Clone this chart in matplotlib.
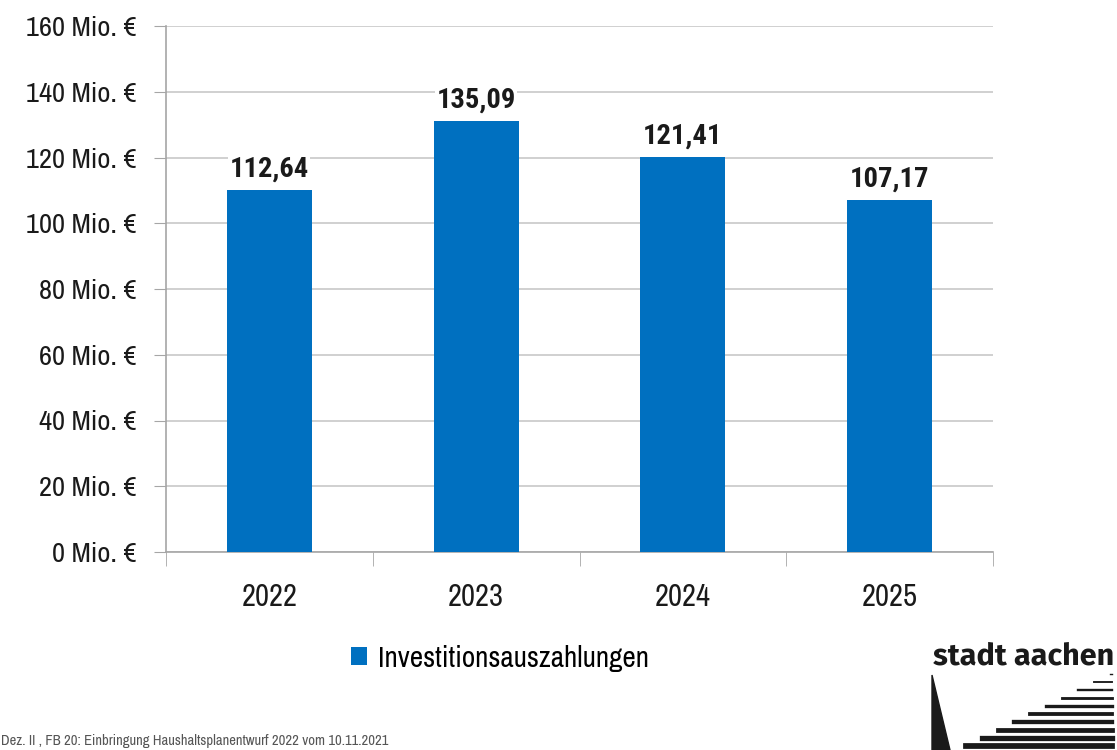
import numpy as np
import matplotlib.pyplot as plt
from matplotlib.patches import Polygon

years = ['2022', '2023', '2024', '2025']
# bar heights as drawn in the picture (Mio. €)
heights = [110.1, 131.1, 120.2, 107.1]
labels = ['112,64', '135,09', '121,41', '107,17']
series_name = 'Investitionsauszahlungen'
yticks = [0, 20, 40, 60, 80, 100, 120, 140, 160]

narrow = ['Archivo Narrow', 'Liberation Sans', 'DejaVu Sans']
narrow_bold = ['Roboto Condensed', 'Fira Sans Condensed', 'DejaVu Sans']
plt.rcParams['font.family'] = narrow

W, H = 1117, 750
fig = plt.figure(figsize=(W / 100, H / 100), dpi=100)
ax = fig.add_axes([166 / W, (H - 552) / H, (993 - 166) / W, (552 - 26) / H])

blue = '#0070C0'
x = np.arange(len(years))
ax.bar(x, heights, width=0.41, color=blue, zorder=3, label=series_name)

for xi, h, lab in zip(x, heights, labels):
    ax.text(xi, h + 2.2, lab, ha='center', va='bottom', fontsize=20.5, fontweight='bold',
            family=narrow_bold, color='#1a1a1a', zorder=4,
            bbox=dict(facecolor='white', edgecolor='none', pad=1))

ax.set_xlim(-0.5, len(years) - 0.5)
ax.set_ylim(0, 160)
ax.set_yticks(yticks)
ax.set_yticklabels([f'{v} Mio. €' for v in yticks], fontsize=20.5, color='#1a1a1a')
ax.set_xticks(x)
ax.set_xticklabels(years, fontsize=22, color='#1a1a1a')
ax.tick_params(axis='x', length=0, pad=22)
ax.tick_params(axis='y', length=9, color='#a6a6a6', pad=12)
ax.set_xticks(np.arange(len(years) + 1) - 0.5, minor=True)
ax.tick_params(axis='x', which='minor', length=10, color='#a6a6a6')

ax.yaxis.grid(True, color='#c8c8c8', linewidth=1.2, zorder=0)
for s in ['top', 'right']:
    ax.spines[s].set_visible(False)
for s in ['left', 'bottom']:
    ax.spines[s].set_color('#a6a6a6')
    ax.spines[s].set_linewidth(1.2)

leg = fig.legend(loc='center', bbox_to_anchor=(500 / W, 1 - 658 / H), frameon=False,
                 fontsize=21, handlelength=0.55, handleheight=0.55, handletextpad=0.4)

fig.text(1 / W, 1 - 741 / H, 'Dez. II , FB 20: Einbringung Haushaltsplanentwurf 2022 vom 10.11.2021',
         fontsize=10.5, color='#555555', va='center', ha='left')

# logo
fig.text(1114 / W, 1 - 656 / H, 'stadt aachen', fontsize=22, fontweight='bold',
         family=['Fira Sans', 'DejaVu Sans'], color='#1a1a1a', ha='right', va='center')
fig.add_artist(Polygon([[932 / W, 1 - 675 / H], [950 / W, 0], [932 / W, 0]],
                       closed=True, color='#1a1a1a', transform=fig.transFigure))
for i, yy in enumerate(range(674, 752, 8)):
    x0 = 1110 - 16 * i
    fig.add_artist(plt.Line2D([x0 / W, 1112 / W], [1 - yy / H, 1 - yy / H],
                              color='#1a1a1a', linewidth=1 + 0.35 * i, transform=fig.transFigure))

fig.savefig('out.png', dpi=100)
